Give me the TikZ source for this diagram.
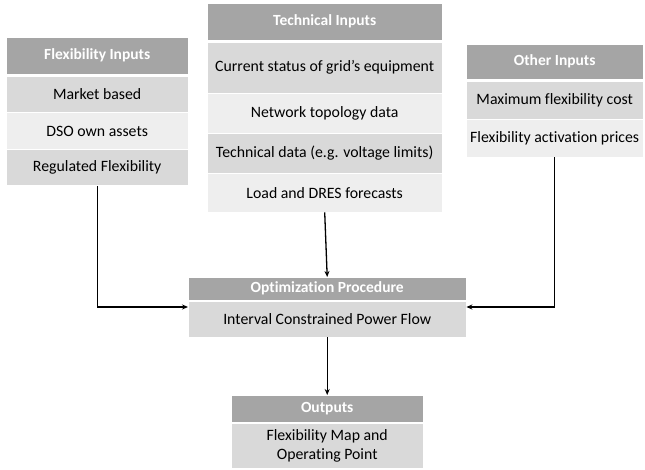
\documentclass[tikz,border=0pt]{standalone}
\usepackage{fontspec}
\setmainfont{Carlito}[Ligatures=NoCommon]
\usepackage{tikz}
\usetikzlibrary{arrows.meta, positioning}
\definecolor{headgray}{HTML}{A5A5A5}
\definecolor{rowdark}{HTML}{D9D9D9}
\definecolor{rowlight}{HTML}{EEEEEE}
\tikzstyle{headbox} = [
  rectangle, draw=white, fill=headgray, anchor=north west, inner sep=0pt,
  text=white, font=\fontsize{15.5}{18}\selectfont\bfseries
]
\tikzstyle{rowbox} = [
  rectangle, draw=white, fill=rowdark, anchor=north west, inner sep=0pt,
  font=\fontsize{15.8}{19}\selectfont, align=center
]
\tikzstyle{lightrow} = [rowbox, fill=rowlight]
\tikzstyle{arrow} = [-{Stealth[length=6pt, width=5pt]}, line width=1.3pt]

\begin{document}
\begin{tikzpicture}[x=1pt, y=-1pt]

  \useasboundingbox (0, 0) rectangle (645, 470);

  % flexibility inputs
  \node[headbox, minimum width=182, minimum height=37] (flexhead) at (6, 37) {Flexibility Inputs};
  \node[rowbox, minimum width=182, minimum height=36.5] (flexmarket) at (6, 76) {Market based};
  \node[lightrow, minimum width=182, minimum height=36.5] (flexdso) at (6, 112.5) {DSO own assets};
  \node[rowbox, minimum width=182, minimum height=36.5] (flexreg) at (6, 149) {Regulated Flexibility};

  % technical inputs
  \node[headbox, minimum width=235, minimum height=37] (techhead) at (207, 3) {Technical Inputs};
  \node[rowbox, minimum width=235, minimum height=51] (techstatus) at (207, 42) {Current status of grid’s equipment};
  \node[lightrow, minimum width=235, minimum height=40] (techtopo) at (207, 93) {Network topology data};
  \node[rowbox, minimum width=235, minimum height=40] (techdata) at (207, 133) {Technical data (e.g. voltage limits)};
  \node[lightrow, minimum width=235, minimum height=39] (techload) at (207, 173) {Load and DRES forecasts};

  % other inputs
  \node[headbox, minimum width=177, minimum height=35] (otherhead) at (466, 44) {Other Inputs};
  \node[rowbox, minimum width=177, minimum height=38] (othercost) at (466, 81) {Maximum flexibility cost};
  \node[lightrow, minimum width=177, minimum height=38] (otherprice) at (466, 119) {Flexibility activation prices};

  % optimization
  \node[headbox, minimum width=278, minimum height=23] (opthead) at (188, 277) {Optimization Procedure};
  \node[rowbox, minimum width=278, minimum height=36] (optrow) at (188, 301) {Interval Constrained Power Flow};

  % outputs
  \node[headbox, minimum width=192, minimum height=27] (outhead) at (231, 395) {Outputs};
  \node[rowbox, minimum width=192, minimum height=45] (outrow) at (231, 423) {Flexibility Map and\\Operating Point};

  \draw[arrow] (flexreg.south) |- ([yshift=-6pt]optrow.north west);
  \draw[arrow] (otherprice.south) |- ([yshift=-6pt]optrow.north east);
  \draw[arrow] (techload.south) -- (opthead.north);
  \draw[arrow] (optrow.south) -- (outhead.north);

\end{tikzpicture}
\end{document}
